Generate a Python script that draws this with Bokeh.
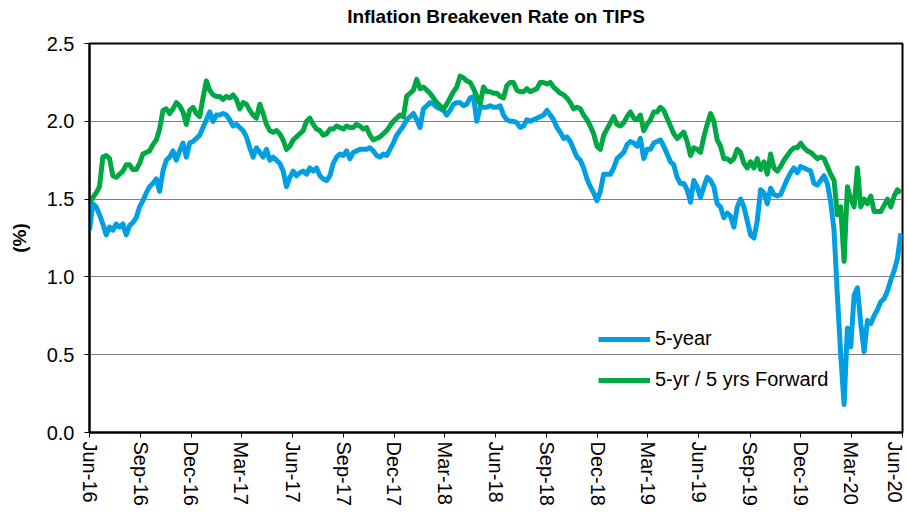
import pandas as pd
from bokeh.plotting import figure
from bokeh.models import Range1d, FixedTicker, DatetimeTickFormatter, ColumnDataSource, Title
from bokeh.embed import file_html
from bokeh.resources import INLINE

# ---------------- data ----------------
start_date = "2016-06-01"
step = "6D"

five_year = [
    1.30, 1.47, 1.45, 1.40, 1.34, 1.27, 1.32, 1.30, 1.34, 1.32,
    1.34, 1.27, 1.33, 1.35, 1.38, 1.45, 1.49, 1.54, 1.58, 1.60,
    1.63, 1.55, 1.68, 1.75, 1.77, 1.81, 1.75, 1.81, 1.86, 1.77,
    1.86, 1.87, 1.89, 1.91, 1.96, 2.01, 2.06, 2.00, 2.04, 2.04,
    2.05,
    2.04, 2.01, 1.97, 1.98, 1.96, 1.94, 1.90, 1.83, 1.77, 1.83,
    1.80, 1.77, 1.82, 1.75, 1.77, 1.75, 1.73, 1.68, 1.58, 1.64,
    1.68, 1.65, 1.67, 1.68, 1.66, 1.70, 1.68, 1.70, 1.65, 1.63,
    1.62, 1.65, 1.73, 1.77, 1.79, 1.78, 1.81, 1.76, 1.80, 1.81,
    1.82,
    1.82, 1.82, 1.83, 1.81, 1.78, 1.77, 1.79, 1.78, 1.82, 1.86,
    1.91, 1.94, 1.97, 2.01, 2.03, 2.05, 2.01, 1.96, 2.08, 2.10,
    2.12, 2.11, 2.09, 2.08, 2.07, 2.04, 2.07, 2.11, 2.12, 2.12,
    2.10, 2.11, 2.15, 2.16, 2.00, 2.09, 2.09, 2.09, 2.10, 2.09,
    2.09, 2.10, 2.04, 2.01, 2.00, 2.00, 1.99, 1.96, 1.97, 2.01,
    2.00, 2.01, 2.02, 2.03, 2.04, 2.07, 2.04, 2.01, 1.96, 1.93,
    1.89, 1.90, 1.87, 1.82, 1.77, 1.75, 1.70, 1.63, 1.58, 1.54,
    1.49, 1.55, 1.66, 1.66, 1.66, 1.70, 1.76, 1.78, 1.80, 1.85,
    1.87,
    1.86, 1.84, 1.89, 1.76, 1.82, 1.82, 1.86, 1.87, 1.88, 1.84,
    1.79, 1.74, 1.72, 1.64, 1.60, 1.60, 1.56, 1.48, 1.62, 1.58,
    1.51, 1.58, 1.64, 1.62, 1.58, 1.47, 1.45, 1.38, 1.41, 1.39,
    1.32, 1.45, 1.50, 1.45, 1.36, 1.27, 1.25, 1.36, 1.56, 1.54,
    1.47,
    1.57, 1.53, 1.52, 1.53, 1.58, 1.63, 1.67, 1.70, 1.67, 1.71,
    1.70, 1.69, 1.68, 1.60, 1.59, 1.62, 1.65, 1.60, 1.48, 1.30,
    0.88, 0.50, 0.18, 0.67, 0.55, 0.88, 0.93, 0.70, 0.52, 0.72,
    0.70, 0.75, 0.79, 0.84, 0.86, 0.91, 0.98, 1.04, 1.12, 1.28,
]

five_five_fwd = [
    1.48, 1.51, 1.54, 1.58, 1.77, 1.78, 1.76, 1.65, 1.64, 1.66,
    1.68, 1.72, 1.72, 1.69, 1.69, 1.73, 1.79, 1.80, 1.81, 1.85,
    1.88, 1.95, 2.07, 2.08, 2.05, 2.08, 2.12, 2.10, 2.06, 1.98,
    2.07, 2.09, 2.05, 2.03, 2.15, 2.26, 2.20, 2.17, 2.16, 2.16,
    2.14,
    2.16, 2.15, 2.17, 2.14, 2.08, 2.12, 2.11, 2.07, 2.04, 2.02,
    2.11, 2.05, 1.98, 1.94, 1.93, 1.94, 1.92, 1.88, 1.82, 1.84,
    1.88, 1.90, 1.92, 1.94, 2.00, 2.02, 1.98, 1.95, 1.94, 1.91,
    1.92, 1.95, 1.95, 1.97, 1.96, 1.95, 1.97, 1.96, 1.96, 1.98,
    1.97,
    1.95, 1.96, 1.91, 1.88, 1.89, 1.90, 1.92, 1.94, 1.97, 2.00,
    2.02, 2.04, 2.03, 2.16, 2.18, 2.20, 2.27, 2.21, 2.22, 2.20,
    2.18, 2.15, 2.12, 2.10, 2.08, 2.11, 2.15, 2.19, 2.22, 2.29,
    2.28, 2.26, 2.25, 2.21, 2.16, 2.11, 2.22, 2.19, 2.19, 2.18,
    2.18, 2.16, 2.15, 2.23, 2.25, 2.25, 2.20, 2.19, 2.19, 2.21,
    2.19, 2.20, 2.21, 2.25, 2.25, 2.24, 2.25, 2.22, 2.20, 2.18,
    2.17, 2.15, 2.12, 2.08, 2.09, 2.08, 2.04, 2.01, 1.97, 1.92,
    1.84, 1.82, 1.91, 1.95, 1.99, 2.03, 1.98, 1.97, 1.99, 2.03,
    2.06,
    2.02, 2.01, 2.04, 1.94, 1.98, 2.01, 2.06, 2.06, 2.09, 2.07,
    2.02, 1.97, 1.92, 1.89, 1.91, 1.93, 1.87, 1.78, 1.83, 1.82,
    1.80, 1.90, 1.98, 2.05, 2.00, 1.88, 1.84, 1.76, 1.76, 1.74,
    1.76, 1.82, 1.80, 1.73, 1.70, 1.74, 1.70, 1.76, 1.69, 1.74,
    1.66,
    1.79, 1.70, 1.68, 1.71, 1.75, 1.78, 1.81, 1.83, 1.83, 1.86,
    1.83, 1.81, 1.80, 1.78, 1.76, 1.77, 1.76, 1.71, 1.66, 1.62,
    1.40, 1.45, 1.10, 1.58, 1.50, 1.45, 1.70, 1.45, 1.50, 1.47,
    1.52, 1.42, 1.42, 1.42, 1.46, 1.50, 1.45, 1.52, 1.56, 1.54,
]

tick_dates = ["2016-06-01", "2016-09-01", "2016-12-01", "2017-03-01",
              "2017-06-01", "2017-09-01", "2017-12-01", "2018-03-01",
              "2018-06-01", "2018-09-01", "2018-12-01", "2019-03-01",
              "2019-06-01", "2019-09-01", "2019-12-01", "2020-03-01",
              "2020-06-01"]
tick_labels = ["Jun-16", "Sep-16", "Dec-16", "Mar-17", "Jun-17", "Sep-17",
               "Dec-17", "Mar-18", "Jun-18", "Sep-18", "Dec-18", "Mar-19",
               "Jun-19", "Sep-19", "Dec-19", "Mar-20", "Jun-20"]
y_ticks = [0.0, 0.5, 1.0, 1.5, 2.0, 2.5]
y_labels = ["0.0", "0.5", "1.0", "1.5", "2.0", "2.5"]

title_text = "Inflation Breakeven Rate on TIPS"
series_names = ["5-year", "5-yr / 5 yrs Forward"]
series_colors = ["#009FE3", "#00A843"]

# ---------------- figure ----------------
FONT = "Liberation Sans"
dates = pd.date_range(start_date, periods=len(five_year), freq=step)
src = ColumnDataSource(dict(date=dates, a=five_year, b=five_five_fwd))

tick_ms = [int(pd.Timestamp(d).value // 10**6) for d in tick_dates]

p = figure(width=905, height=511, x_axis_type="datetime",
           output_backend="svg", toolbar_location=None,
           x_range=Range1d(tick_ms[0], tick_ms[-1]),
           y_range=Range1d(y_ticks[0], y_ticks[-1]),
           min_border_left=89, min_border_right=3,
           min_border_top=43, min_border_bottom=79,
           title=title_text)

p.background_fill_color = "white"
p.border_fill_color = "white"
p.outline_line_color = "black"
p.outline_line_width = 2

p.title.text_font = FONT
p.title.text_font_size = "19px"
p.title.text_font_style = "bold"
p.title.align = "center"
p.title.text_color = "black"
p.title.standoff = 0

# thin blank spacer between the frame and the title
p.add_layout(Title(text=" ", text_font_size="1px", standoff=14), "above")

# x axis
xa = p.xaxis[0]
xa.ticker = FixedTicker(ticks=tick_ms)
xa.formatter = DatetimeTickFormatter(days="%b-%y", months="%b-%y", years="%b-%y")
xa.major_label_overrides = {t: l for t, l in zip(tick_ms, tick_labels)}
xa.major_label_orientation = "vertical"
xa.major_label_text_font = FONT
xa.major_label_text_font_size = "20px"
xa.major_label_text_color = "black"
xa.major_label_standoff = 4
xa.axis_line_color = "black"
xa.axis_line_width = 2
xa.major_tick_line_color = "black"
xa.major_tick_out = 5
xa.major_tick_in = 0
xa.minor_tick_line_color = None

# y axis
ya = p.yaxis[0]
ya.ticker = FixedTicker(ticks=y_ticks)
ya.major_label_overrides = {t: l for t, l in zip(y_ticks, y_labels)}
ya.major_label_text_font = FONT
ya.major_label_text_font_size = "20px"
ya.major_label_text_color = "black"
ya.major_label_standoff = 10
ya.axis_label = "(%)"
ya.axis_label_text_font = FONT
ya.axis_label_text_font_size = "19px"
ya.axis_label_text_font_style = "bold"
ya.axis_label_text_color = "black"
ya.axis_label_standoff = 14
ya.axis_line_color = "black"
ya.axis_line_width = 2
ya.major_tick_line_color = "black"
ya.major_tick_out = 5
ya.major_tick_in = 0
ya.minor_tick_line_color = None

p.xgrid.grid_line_color = None
p.ygrid.grid_line_color = "#7f7f7f"
p.ygrid.grid_line_width = 1

p.line("date", "a", source=src, color=series_colors[0], line_width=5,
       line_join="round", legend_label=series_names[0])
p.line("date", "b", source=src, color=series_colors[1], line_width=5,
       line_join="round", legend_label=series_names[1])

lg = p.legend[0]
lg.location = (509, 41)
lg.background_fill_alpha = 0
lg.border_line_color = None
lg.padding = 0
lg.margin = 0
lg.spacing = 18
lg.glyph_width = 52
lg.glyph_height = 22
lg.label_height = 22
lg.label_standoff = 5
lg.label_text_font = FONT
lg.label_text_font_size = "20px"
lg.label_text_color = "black"

open("out.html", "w").write(file_html(p, INLINE))
